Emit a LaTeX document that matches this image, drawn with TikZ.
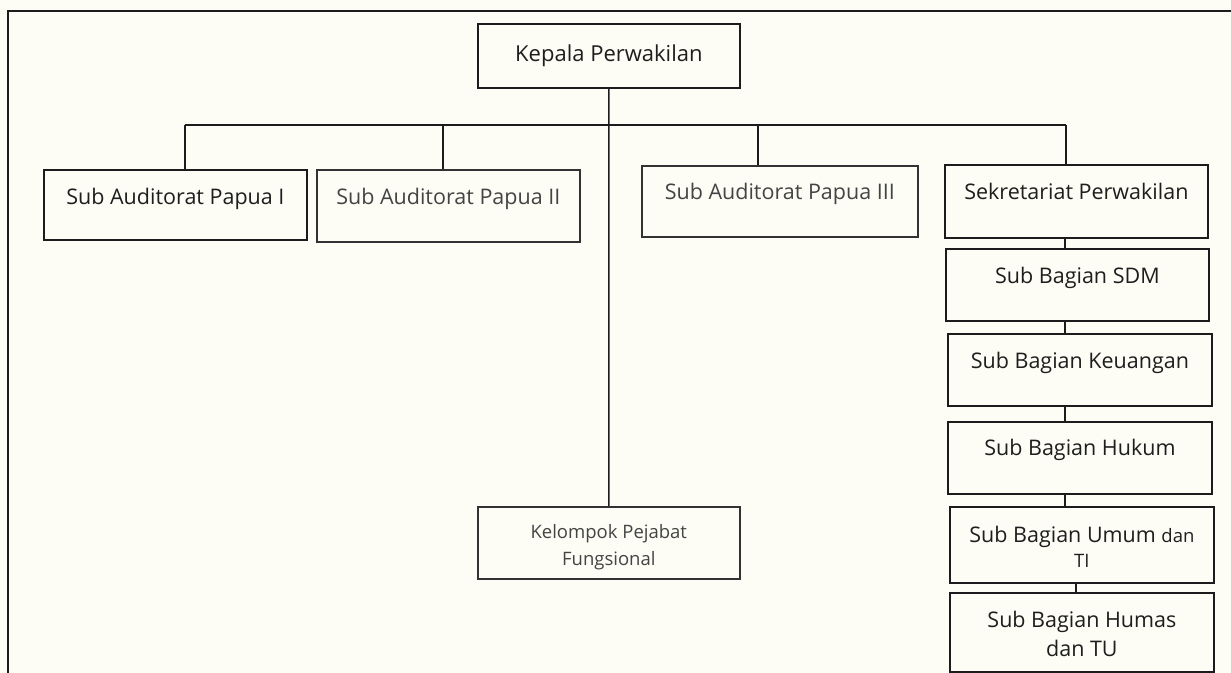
\documentclass[tikz,border=0pt]{standalone}
\usepackage{fontspec}
\setmainfont{Open Sans}
\definecolor{paper}{RGB}{253,253,246}
\definecolor{ink}{RGB}{28,28,28}
\definecolor{inksoft}{RGB}{50,50,50}
\definecolor{txt}{RGB}{30,30,30}
\definecolor{txtsoft}{RGB}{68,68,68}
\begin{document}
\begin{tikzpicture}[x=1bp,y=-1bp,
  unit/.style={draw=ink, line width=1.8bp, inner sep=0pt, anchor=north west},
  softunit/.style={unit, draw=inksoft, line width=1.6bp},
  link/.style={draw=ink, line width=1.5bp},
  frameline/.style={draw=ink, line width=2.2bp},
  lbl/.style={font=\fontsize{21.5bp}{27bp}\selectfont, text=txt, inner sep=0pt, anchor=base, align=center},
  softlbl/.style={lbl, text=txtsoft},
  multilbl/.style={lbl, anchor=north},
]
\useasboundingbox (0,0) rectangle (1231,673);
\fill[paper] (0,0) rectangle (1231,673);

% page frame (top and left edges)
\draw[frameline] (1231,11) -- (8,11) -- (8,673);

% head of office
\node[unit, minimum width=262bp, minimum height=64bp] (kep) at (477,23) {};
\node[lbl, font=\fontsize{22bp}{27bp}\selectfont] (kept) at ([yshift=-39bp]kep.north) {Kepala Perwakilan};

% first level units
\node[unit, minimum width=263bp, minimum height=70bp] (p1) at (43,169) {};
\node[lbl] (p1t) at ([yshift=-35bp]p1.north) {Sub Auditorat Papua I};

\node[softunit, minimum width=263bp, minimum height=72bp] (p2) at (316,169) {};
\node[softlbl] (p2t) at ([yshift=-35bp]p2.north) {Sub Auditorat Papua II};

\node[softunit, minimum width=276bp, minimum height=71bp] (p3) at (641,165) {};
\node[softlbl] (p3t) at ([yshift=-34bp]p3.north) {Sub Auditorat Papua III};

\node[unit, minimum width=263bp, minimum height=73bp] (sek) at (944,164) {};
\node[lbl] (sekt) at ([yshift=-35bp]sek.north) {Sekretariat Perwakilan};

% functional group
\node[softunit, minimum width=262bp, minimum height=72bp] (kel) at (477,506) {};
\node[multilbl, text=txtsoft, font=\fontsize{18.5bp}{27bp}\selectfont] (kelt) at ([yshift=-18bp]kel.north) {Kelompok Pejabat\\Fungsional};

% secretariat sub-sections
\node[unit, minimum width=263bp, minimum height=72bp] (sdm) at (945,248) {};
\node[lbl] (sdmt) at ([yshift=-35bp]sdm.north) {Sub Bagian SDM};

\node[unit, minimum width=264bp, minimum height=72bp] (keu) at (947,333) {};
\node[lbl] (keut) at ([yshift=-35bp]keu.north) {Sub Bagian Keuangan};

\node[unit, minimum width=264bp, minimum height=72bp] (huk) at (947,421) {};
\node[lbl] (hukt) at ([yshift=-34bp]huk.north) {Sub Bagian Hukum};

\node[unit, minimum width=264bp, minimum height=76bp] (umum) at (949,506) {};
\node[multilbl, font=\fontsize{21.5bp}{25bp}\selectfont] (umumt) at ([yshift=-20bp]umum.north)
  {Sub Bagian Umum {\fontsize{18.5bp}{25bp}\selectfont dan}\\{\fontsize{18.5bp}{25bp}\selectfont TI}};

\node[unit, minimum width=264bp, minimum height=79bp] (humas) at (949,592) {};
\node[multilbl, font=\fontsize{21.5bp}{29bp}\selectfont] (humast) at ([yshift=-19bp]humas.north)
  {Sub Bagian Humas\\dan TU};

% distribution bus below the head of office
\coordinate (b1) at (185,125);
\coordinate (b2) at (443,125);
\coordinate (b3) at (758,125);
\coordinate (b4) at (1066,125);
\draw[link] (b1) -- (b4);
\draw[link] (b1) -- (b1 |- p1.north);
\draw[link] (b2) -- (b2 |- p2.north);
\draw[link] (b3) -- (b3 |- p3.north);
\draw[link] (b4) -- (b4 |- sek.north);
\draw[link] (kep.south) -- (kel.north);

% secretariat chain
\coordinate (cx) at (1065,0);
\coordinate (cy) at (1076,0);
\draw[link] (sek.south -| cx) -- (sdm.north -| cx);
\draw[link] (sdm.south -| cx) -- (keu.north -| cx);
\draw[link] (keu.south -| cx) -- (huk.north -| cx);
\draw[link] (huk.south -| cx) -- (umum.north -| cx);
\draw[link] (umum.south -| cy) -- (humas.north -| cy);
\end{tikzpicture}
\end{document}
